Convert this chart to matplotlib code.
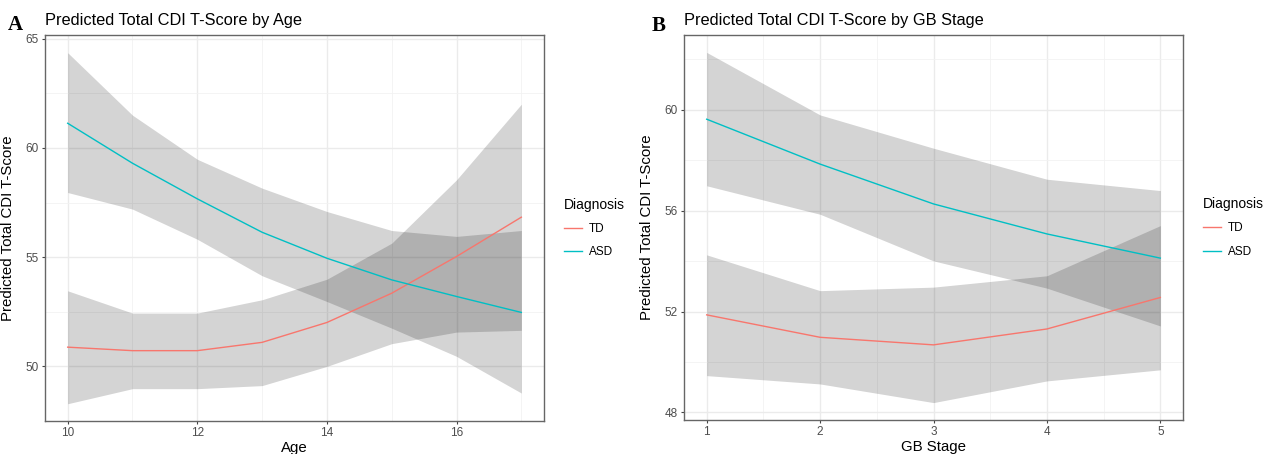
import matplotlib
matplotlib.use("Agg")
import matplotlib.pyplot as plt

plt.rcParams['font.family'] = ['Liberation Sans', 'DejaVu Sans']

# Panel A: prediction by age
age = [10, 11, 12, 13, 14, 15, 16, 17]
td_age = [50.88, 50.72, 50.72, 51.10, 52.01, 53.35, 55.03, 56.83]
td_age_hi = [53.46, 52.44, 52.44, 53.05, 53.99, 55.64, 58.54, 62.00]
td_age_lo = [48.29, 48.98, 48.98, 49.12, 50.00, 51.04, 51.57, 51.65]
asd_age = [61.13, 59.30, 57.67, 56.14, 54.95, 53.96, 53.20, 52.47]
asd_age_hi = [64.36, 61.50, 59.48, 58.16, 57.09, 56.22, 55.95, 56.22]
asd_age_lo = [57.96, 57.20, 55.82, 54.15, 52.97, 51.75, 50.46, 48.78]

# Panel B: prediction by GB stage
stage = [1, 2, 3, 4, 5]
td_gb = [51.87, 50.98, 50.68, 51.31, 52.56]
td_gb_hi = [54.25, 52.83, 52.97, 53.42, 55.41]
td_gb_lo = [49.46, 49.13, 48.39, 49.25, 49.69]
asd_gb = [59.63, 57.85, 56.27, 55.08, 54.12]
asd_gb_hi = [62.28, 59.80, 58.48, 57.25, 56.80]
asd_gb_lo = [56.99, 55.86, 54.01, 52.93, 51.43]

TD_COL = "#F8766D"
ASD_COL = "#00BFC4"

fig = plt.figure(figsize=(12.66, 4.54), dpi=100)
ax1 = fig.add_axes([45/1266, 33/454, 499/1266, 386/454])
ax2 = fig.add_axes([684/1266, 34/454, 499/1266, 385/454])


def draw_panel(ax, x, td, td_lo, td_hi, asd, asd_lo, asd_hi,
               xlim, ylim, xmaj, xmin, ymaj, ymin, xlabel, title):
    ax.set_xlim(xlim)
    ax.set_ylim(ylim)
    ax.set_xticks(xmaj)
    ax.set_xticks(xmin, minor=True)
    ax.set_yticks(ymaj)
    ax.set_yticks(ymin, minor=True)
    ax.grid(True, which='major', color='#EBEBEB', linewidth=1.0, zorder=0)
    ax.grid(True, which='minor', color='#F2F2F2', linewidth=0.6, zorder=0)
    ax.set_axisbelow(True)

    # confidence bands
    ax.fill_between(x, td_lo, td_hi, color='black', alpha=0.17, linewidth=0, zorder=1)
    ax.fill_between(x, asd_lo, asd_hi, color='black', alpha=0.17, linewidth=0, zorder=1)
    l1, = ax.plot(x, td, color=TD_COL, linewidth=1.0, label='TD', zorder=2)
    l2, = ax.plot(x, asd, color=ASD_COL, linewidth=1.0, label='ASD', zorder=2)

    for s in ax.spines.values():
        s.set_color('#666666')
        s.set_linewidth(1.0)
    ax.tick_params(which='major', length=2.5, width=0.8, color='#444444',
                   labelsize=8.5, labelcolor='#4D4D4D', pad=2)
    ax.tick_params(which='minor', length=0)

    ax.set_xlabel(xlabel, fontsize=10.8)
    ax.xaxis.set_label_coords(0.5, -0.052)
    ax.set_ylabel("Predicted Total CDI T-Score", fontsize=10.8)
    ax.yaxis.set_label_coords(-0.06, 0.5)
    ax.set_title(title, loc='left', fontsize=11.8, pad=7)

    ax.legend(handles=[l1, l2], title='Diagnosis', loc='center left',
              bbox_to_anchor=(1.04, 0.5), borderaxespad=0, frameon=False,
              fontsize=8.5, title_fontsize=10, handlelength=1.5,
              handletextpad=0.6, labelspacing=0.95, borderpad=0,
              alignment='left')


draw_panel(ax1, age, td_age, td_age_lo, td_age_hi, asd_age, asd_age_lo, asd_age_hi,
           (9.65, 17.35), (47.52, 65.17), [10, 12, 14, 16], [11, 13, 15, 17],
           [50, 55, 60, 65], [47.5, 52.5, 57.5, 62.5],
           "Age", "Predicted Total CDI T-Score by Age")

draw_panel(ax2, stage, td_gb, td_gb_lo, td_gb_hi, asd_gb, asd_gb_lo, asd_gb_hi,
           (0.8, 5.2), (47.7, 62.97), [1, 2, 3, 4, 5], [1.5, 2.5, 3.5, 4.5],
           [48, 52, 56, 60], [50, 54, 58, 62],
           "GB Stage", "Predicted Total CDI T-Score by GB Stage")

# panel letters
fig.text(8/1266, 1 - 25/454, "A", fontfamily=['Liberation Serif', 'DejaVu Serif'],
         fontweight='bold', fontsize=15, va='center', ha='left')
fig.text(652/1266, 1 - 26/454, "B", fontfamily=['Liberation Serif', 'DejaVu Serif'],
         fontweight='bold', fontsize=15, va='center', ha='left')

fig.savefig("out.png", dpi=100)
